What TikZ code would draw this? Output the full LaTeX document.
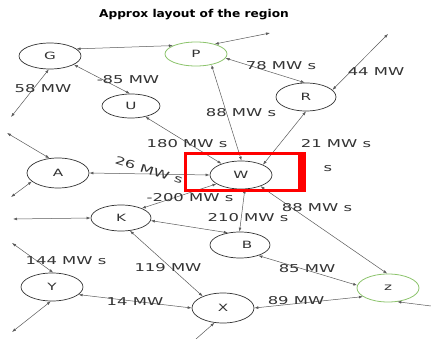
\documentclass[tikz,border=0pt]{standalone}
\usepackage{fontspec}
\usetikzlibrary{arrows.meta,shapes.geometric}
\newfontfamily\lblfont[FakeStretch=1.52]{DejaVu Sans}
\newfontfamily\ttlfont[FakeStretch=1.13]{DejaVu Sans}
\definecolor{lnc}{HTML}{5A5A5A}
\definecolor{ndc}{HTML}{333333}
\definecolor{grn}{HTML}{8CC46C}
\definecolor{txc}{HTML}{333333}
\tikzset{
  nd/.style={ellipse, draw=ndc, line width=0.7pt, inner sep=0pt, text=ndc,
    font=\lblfont\fontsize{10}{12}\selectfont},
  gnd/.style={nd, draw=grn, line width=0.8pt},
  conn/.style={draw=lnc, line width=0.5pt, {Latex[length=4pt,width=2.8pt]}-{Latex[length=4pt,width=2.8pt]}},
  conn1/.style={draw=lnc, line width=0.5pt, {Latex[length=4pt,width=2.8pt]}-},
  lbl/.style={inner sep=0pt, text=txc, font=\lblfont\fontsize{10.8}{12}\selectfont},
  ttl/.style={inner sep=0pt, text=black, font=\ttlfont\bfseries\fontsize{10.8}{12}\selectfont}
}
\begin{document}
\begin{tikzpicture}[x=1pt,y=-1pt]
\useasboundingbox (0,0) rectangle (431,339);
\fill[white] (0,0) rectangle (431,339);
% title
\node[ttl] (title) at (194,15) {Approx layout of the region};
% nodes
\node[nd, minimum width=62pt, minimum height=26pt] (G) at (50,56) {G};
\node[gnd, minimum width=62pt, minimum height=24pt] (P) at (196,54) {P};
\node[nd, minimum width=58pt, minimum height=24pt] (U) at (131,106) {U};
\node[nd, minimum width=60pt, minimum height=28pt] (R) at (306,97) {R};
\node[nd, minimum width=62pt, minimum height=30pt] (A) at (58,173) {A};
\node[nd, minimum width=62pt, minimum height=28pt] (W) at (241,175) {W};
\node[nd, minimum width=60pt, minimum height=26pt] (K) at (121,218) {K};
\node[nd, minimum width=60pt, minimum height=26pt] (B) at (240,245) {\hspace*{14pt}B};
\node[nd, minimum width=62pt, minimum height=28pt] (Y) at (52,287) {Y};
\node[nd, minimum width=62pt, minimum height=30pt] (X) at (223,308) {X};
\node[gnd, minimum width=62pt, minimum height=28pt] (Z) at (388,288) {z};
% free ends
\coordinate (f1) at (270,33);
\coordinate (f2) at (11,117);
\coordinate (f3) at (7,133);
\coordinate (f4) at (11,197);
\coordinate (f5) at (388,34);
\coordinate (f6) at (13,219);
\coordinate (f7) at (12,243);
\coordinate (f8) at (12,332);
\coordinate (f9) at (431,306);
\coordinate (f10) at (196,339);
% connectors
\draw[conn] (G.15) -- (P.160);
\draw[conn] (P.28) -- (f1);
\draw[conn] (G.-95) -- (f2);
\draw[conn] (G.-20) -- (U.95);
\draw[conn] (f3) -- (A.120);
\draw[conn] (A.-162) -- (f4);
\draw[conn] (A.0) -- (W.180);
\draw[conn] (U.-37) -- (W.150);
\draw[conn] (P.-35) -- (W.88);
\draw[conn] (P.-8) -- (R.95);
\draw[conn] (R.15) -- (f5);
\draw[conn] (R.-90) -- (W.25);
\draw[conn] (W.-160) -- (K.25);
\draw[conn] (f6) -- (K.180);
\draw[conn] (K.-5) -- (B.135);
\draw[conn] (W.-75) -- (B.92);
\draw[conn] (W.-30) -- (Z.93);
\draw[conn] (B.-30) -- (Z.175);
\draw[conn] (X.0) -- (Z.-161);
\draw[conn1] (Z.-56) -- (f9);
\draw[conn] (K.-55) -- (X.150);
\draw[conn] (Y.-16) -- (X.180);
\draw[conn] (f7) -- (Y.85);
\draw[conn] (Y.-95) -- (f8);
\draw[conn1] (X.-120) -- (f10);
% labels
\node[lbl] (l58) at (43,89) {58 MW};
\node[lbl] (l85a) at (128,80) {-85 MW};
\node[lbl] (l78) at (281,66) {78 MW s};
\node[lbl] (l44) at (376,72) {44 MW};
\node[lbl] (l88a) at (241,113) {88 MW s};
\node[lbl] (l180) at (187,144) {180 MW s};
\node[lbl] (l21) at (336,144) {21 MW s};
\node[lbl, rotate=-17] (l26) at (149,170) {26 MW s};
\node[lbl] (ls) at (328,169) {s};
\node[lbl] (l200) at (190,198) {-200 MW s};
\node[lbl] (l210) at (248,218) {210 MW s};
\node[lbl] (l88b) at (317,208) {88 MW s};
\node[lbl] (l144) at (66,261) {144 MW s};
\node[lbl] (l119) at (168,268) {119 MW};
\node[lbl] (l85b) at (307,269) {85 MW};
\node[lbl] (l14) at (135,302) {14 MW};
\node[lbl] (l89) at (296,301) {89 MW};
% red highlight box
\draw[red, line width=3pt] (185,153.5) rectangle (300,191);
\fill[red] (298,152) rectangle (306,192.5);
\end{tikzpicture}
\end{document}
